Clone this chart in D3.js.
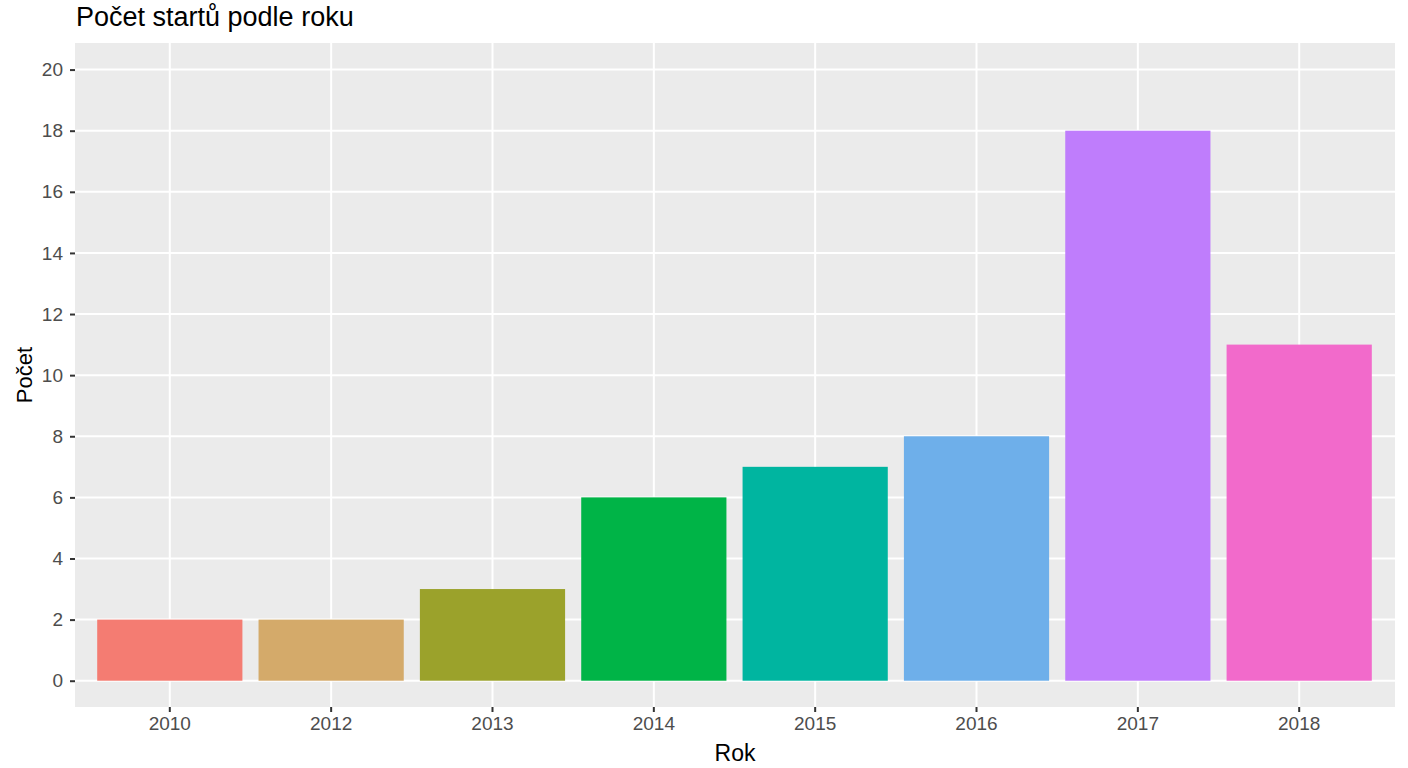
<!DOCTYPE html>
<html><head><meta charset="utf-8">
<script src="https://cdn.jsdelivr.net/npm/d3@7"></script>
<style>body{margin:0;background:#fff;}svg text{font-family:"Liberation Sans",Arial,sans-serif;}</style>
</head><body>
<svg id="c" width="1408" height="768"></svg>
<script>
const years = ["2010","2012","2013","2014","2015","2016","2017","2018"];
const counts = [2,2,3,6,7,8,18,11];
const colors = ["#F47C72","#D4AA6A","#9BA22B","#00B447","#00B5A0","#6EAFEA","#BF7DFC","#F26ACB"];
const yTicks = [0,2,4,6,8,10,12,14,16,18,20];

const svg = d3.select("#c");
const L=75, R=1395, T=43, B=707;
// band scale: ggplot-like expansion (0.6 step each side), bar width 0.9 of step
const x = d3.scaleBand().domain(years).range([73, 1396]).paddingInner(0.1).paddingOuter(0.15);
const xc = d => x(d) + x.bandwidth()/2;
const y = d3.scaleLinear().domain([-0.86,20.87]).range([B,T]);

svg.append("rect").attr("x",L).attr("y",T).attr("width",R-L).attr("height",B-T).attr("fill","#EBEBEB");
// grid
svg.selectAll(".hg").data(yTicks).join("line").attr("x1",L).attr("x2",R)
  .attr("y1",d=>y(d)).attr("y2",d=>y(d)).attr("stroke","#fff").attr("stroke-width",2);
svg.selectAll(".vg").data(years).join("line").attr("y1",T).attr("y2",B)
  .attr("x1",d=>xc(d)).attr("x2",d=>xc(d)).attr("stroke","#fff").attr("stroke-width",2);
// bars
svg.selectAll(".bar").data(years).join("rect")
  .attr("x",d=>x(d)).attr("width",x.bandwidth())
  .attr("y",(d,i)=>y(counts[i])).attr("height",(d,i)=>y(0)-y(counts[i]))
  .attr("fill",(d,i)=>colors[i]);
// axes
const yAxis = d3.axisLeft(y).tickValues(yTicks).tickSize(5).tickPadding(7);
const gy = svg.append("g").attr("transform",`translate(${L},0)`).call(yAxis);
gy.select(".domain").remove();
gy.selectAll("line").attr("stroke","#333").attr("stroke-width",2);
gy.selectAll("text").attr("font-size",19).attr("fill","#4D4D4D").attr("font-family","Liberation Sans, Arial, sans-serif");
const xAxis = d3.axisBottom(x).tickSize(5).tickPadding(5);
const gx = svg.append("g").attr("transform",`translate(0,${B})`).call(xAxis);
gx.select(".domain").remove();
gx.selectAll("line").attr("stroke","#333").attr("stroke-width",2);
gx.selectAll("text").attr("font-size",19).attr("fill","#4D4D4D").attr("font-family","Liberation Sans, Arial, sans-serif");
// titles
svg.append("text").attr("x",76).attr("y",26).attr("font-size",27).attr("fill","#000").text("Počet startů podle roku");
svg.append("text").attr("x",(L+R)/2).attr("y",761).attr("text-anchor","middle").attr("font-size",23).attr("fill","#000").text("Rok");
svg.append("text").attr("transform",`translate(32,${(T+B)/2}) rotate(-90)`).attr("text-anchor","middle").attr("font-size",22).attr("fill","#000").text("Počet");
</script>
</body></html>
